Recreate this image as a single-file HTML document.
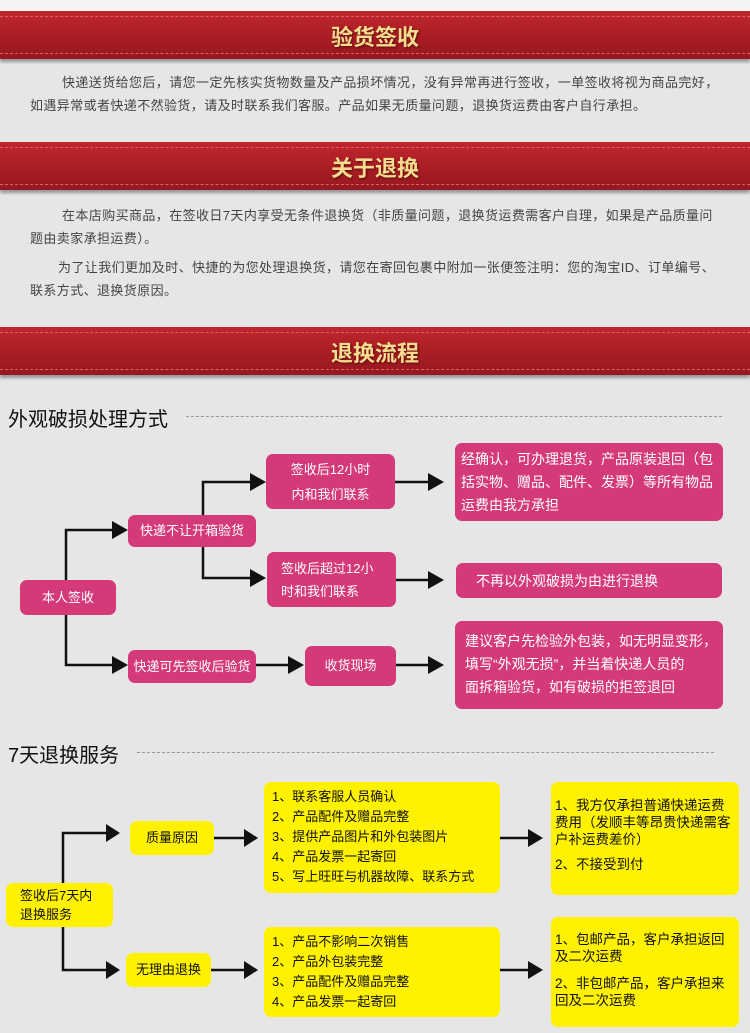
<!DOCTYPE html>
<html><head><meta charset="utf-8"><style>
*{margin:0;padding:0;box-sizing:border-box}
body{width:750px;height:1033px;background:#e6e6e6;position:relative;overflow:hidden;font-family:"Liberation Sans","Noto Sans CJK SC",sans-serif;color:#333}
.ban{position:absolute;left:0;width:750px;height:48px;background:linear-gradient(#c0262c,#a81c24 60%,#961820);box-shadow:0 3px 3px rgba(0,0,0,.35)}
.ban:before,.ban:after{content:"";position:absolute;left:0;right:0;border-top:1px dashed #e06060}
.ban:before{top:5px}.ban:after{bottom:5px}
.ban span{position:absolute;left:0;right:0;top:9px;text-align:center;font-size:22px;font-weight:bold;color:#f6dc8e;text-shadow:1px 1px 2px #5a0a0a}
.p{position:absolute;left:30px;width:720px;font-size:13px;line-height:23px;color:#444;white-space:nowrap;letter-spacing:0.4px}
.h{position:absolute;left:8px;font-size:20px;color:#111}
.dash{position:absolute;border-top:1px dashed #999}
.b{position:absolute;border-radius:7px;font-size:13px;line-height:24px;white-space:nowrap}
.pk{background:#d4397a;color:#fff}
.y{background:#fff200;color:#111}
.c{display:flex;align-items:center;justify-content:center;text-align:center}
</style></head><body>
<div style="position:absolute;left:0;top:0;width:750px;height:12px;background:#f4f4f4"></div>
<div class="ban" style="top:11px"><span>验货签收</span></div>
<div class="p" style="top:71px"><span style="padding-left:32px">快递送货给您后，请您一定先核实货物数量及产品损坏情况，没有异常再进行签收，一单签收将视为商品完好，</span><br>如遇异常或者快递不然验货，请及时联系我们客服。产品如果无质量问题，退换货运费由客户自行承担。</div>
<div class="ban" style="top:142px"><span>关于退换</span></div>
<div class="p" style="top:204px"><span style="padding-left:32px">在本店购买商品，在签收日7天内享受无条件退换货（非质量问题，退换货运费需客户自理，如果是产品质量问</span><br>题由卖家承担运费）。</div>
<div class="p" style="top:256px"><span style="padding-left:28px">为了让我们更加及时、快捷的为您处理退换货，请您在寄回包裹中附加一张便签注明：您的淘宝ID、订单编号、</span><br>联系方式、退换货原因。</div>
<div class="ban" style="top:327px"><span>退换流程</span></div>

<div class="h" style="top:403px">外观破损处理方式</div>
<div class="dash" style="left:186px;width:536px;top:416px"></div>
<div class="h" style="top:739px">7天退换服务</div>
<div class="dash" style="left:137px;width:577px;top:752px"></div>

<svg style="position:absolute;left:0;top:0" width="750" height="1033">
<g stroke="#111" stroke-width="2.5" fill="none">
<path d="M66 580V530H114M66 613V665H114"/>
<path d="M203 515V482H252M203 547V578H252"/>
<path d="M256 665H290M395 482H430M396 580H430M396 665H430"/>
<path d="M63 883V833H108M63 927V970H108"/>
<path d="M214 838H246M211 970H246M500 838H530M500 970H530"/>
</g>
<g fill="#111">
<path d="M112 521L128 530L112 539Z"/><path d="M112 656L128 665L112 674Z"/>
<path d="M250 473L266 482L250 491Z"/><path d="M250 569L266 578L250 587Z"/>
<path d="M288 656L304 665L288 674Z"/>
<path d="M428 473L444 482L428 491Z"/><path d="M428 571L444 580L428 589Z"/><path d="M428 656L444 665L428 674Z"/>
<path d="M106 824L120 833L106 842Z"/><path d="M106 961L120 970L106 979Z"/>
<path d="M244 829L258 838L244 847Z"/><path d="M244 961L258 970L244 979Z"/>
<path d="M528 829L543 838L528 847Z"/><path d="M528 961L543 970L528 979Z"/>
</g></svg>

<div class="b pk c" style="left:20px;top:580px;width:96px;height:35px">本人签收</div>
<div class="b pk c" style="left:128px;top:515px;width:128px;height:32px">快递不让开箱验货</div>
<div class="b pk c" style="left:266px;top:454px;width:129px;height:55px;line-height:25px">签收后12小时<br>内和我们联系</div>
<div class="b pk" style="left:455px;top:443px;width:268px;height:78px;padding:5px 0 0 6px;font-size:14px;line-height:23px">经确认，可办理退货，产品原装退回（包<br>括实物、赠品、配件、发票）等所有物品<br>运费由我方承担</div>
<div class="b pk" style="left:267px;top:552px;width:129px;height:55px;padding:5px 0 0 14px;line-height:23px">签收后超过12小<br>时和我们联系</div>
<div class="b pk" style="left:456px;top:563px;width:266px;height:35px;padding:6px 0 0 20px;font-size:14px">不再以外观破损为由进行退换</div>
<div class="b pk c" style="left:128px;top:650px;width:128px;height:33px">快递可先签收后验货</div>
<div class="b pk c" style="left:305px;top:646px;width:91px;height:40px">收货现场</div>
<div class="b pk" style="left:455px;top:621px;width:268px;height:88px;padding:9px 0 0 10px;font-size:14px;line-height:23px">建议客户先检验外包装，如无明显变形，<br>填写“外观无损”，并当着快递人员的<br>面拆箱验货，如有破损的拒签退回</div>

<div class="b y" style="left:6px;top:883px;width:107px;height:44px;padding:3px 0 0 14px;line-height:19px">签收后7天内<br>退换服务</div>
<div class="b y c" style="left:130px;top:821px;width:84px;height:34px">质量原因</div>
<div class="b y c" style="left:126px;top:953px;width:85px;height:34px">无理由退换</div>
<div class="b y" style="left:264px;top:782px;width:236px;height:111px;padding:5px 0 0 8px;line-height:20px">1、联系客服人员确认<br>2、产品配件及赠品完整<br>3、提供产品图片和外包装图片<br>4、产品发票一起寄回<br>5、写上旺旺与机器故障、联系方式</div>
<div class="b y" style="left:264px;top:927px;width:236px;height:90px;padding:5px 0 0 8px;line-height:20px">1、产品不影响二次销售<br>2、产品外包装完整<br>3、产品配件及赠品完整<br>4、产品发票一起寄回</div>
<div class="b y" style="left:551px;top:782px;width:188px;height:113px;padding:15px 0 0 4px;line-height:17px;font-size:13.5px">1、我方仅承担普通快递运费<br>费用（发顺丰等昂贵快递需客<br>户补运费差价）<br><div style="margin-top:8px">2、不接受到付</div></div>
<div class="b y" style="left:551px;top:917px;width:188px;height:110px;padding:14px 0 0 4px;line-height:17px;font-size:13.5px">1、包邮产品，客户承担返回<br>及二次运费<br><div style="margin-top:10px">2、非包邮产品，客户承担来<br>回及二次运费</div></div>
</body></html>
